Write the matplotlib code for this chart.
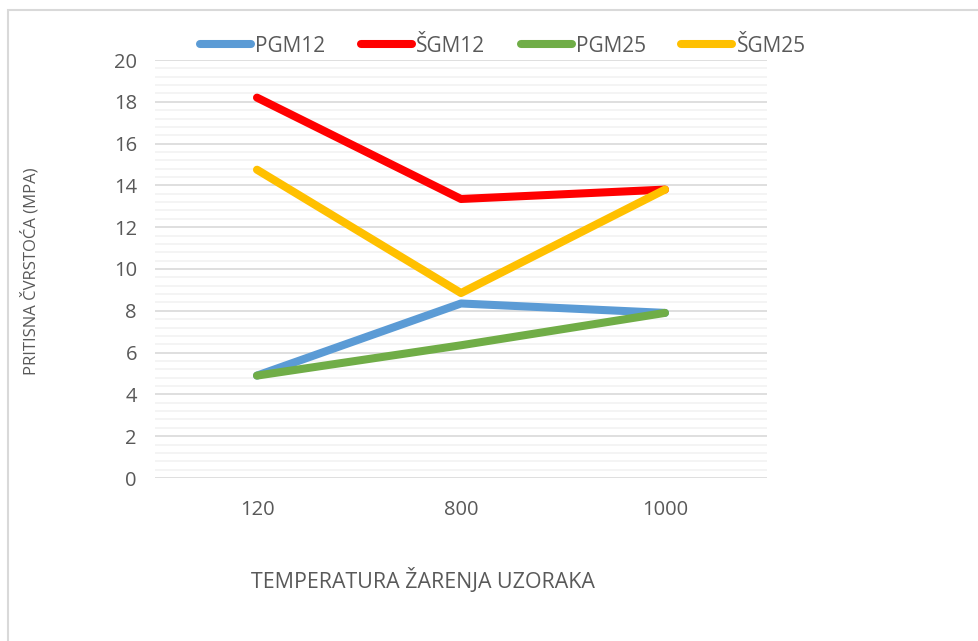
import matplotlib
matplotlib.use("Agg")
import matplotlib.pyplot as plt
from matplotlib.patches import Rectangle
from matplotlib.ticker import MultipleLocator

plt.rcParams['font.family'] = ['Open Sans', 'DejaVu Sans']

temperatures = ['120', '800', '1000']
pgm12 = [4.9, 8.35, 7.9]
sgm12 = [18.2, 13.35, 13.8]
pgm25 = [4.9, 6.35, 7.9]
sgm25 = [14.75, 8.85, 13.8]

series = [
    ('PGM12', pgm12, '#5B9BD5'),
    ('ŠGM12', sgm12, '#FF0000'),
    ('PGM25', pgm25, '#70AD47'),
    ('ŠGM25', sgm25, '#FFC000'),
]

text_color = '#595959'

fig = plt.figure(figsize=(9.79, 6.41), dpi=100)
ax = fig.add_axes([155 / 979, 1 - 478 / 641, 612 / 979, 418 / 641])

x = range(len(temperatures))
for name, vals, color in series:
    ax.plot(x, vals, color=color, lw=5.8, label=name,
            solid_capstyle='round', solid_joinstyle='round')

ax.set_xlim(-0.5, len(temperatures) - 0.5)
ax.set_ylim(0, 20)
ax.set_xticks(list(x))
ax.set_xticklabels(temperatures)
ax.yaxis.set_major_locator(MultipleLocator(2))
ax.yaxis.set_minor_locator(MultipleLocator(0.4))
ax.grid(axis='y', which='major', color='#D9D9D9', lw=1.2)
ax.grid(axis='y', which='minor', color='#F2F2F2', lw=1.2)
ax.set_axisbelow(True)
ax.tick_params(axis='both', which='both', length=0, labelsize=14.5,
               labelcolor=text_color)
ax.tick_params(axis='y', pad=13)
ax.tick_params(axis='x', pad=16)
for s in ax.spines.values():
    s.set_visible(False)

fig.text(30 / 979, 1 - 271 / 641, 'PRITISNA ČVRSTOĆA (MPA)', rotation=90,
         ha='center', va='center', fontsize=12, color=text_color)
fig.text(423 / 979, 1 - 580 / 641, 'TEMPERATURA ŽARENJA UZORAKA',
         ha='center', va='center', fontsize=15.4, color=text_color)

leg = ax.legend(loc='center', bbox_to_anchor=(503 / 979, 1 - 46 / 641),
                bbox_transform=fig.transFigure, ncol=4, frameon=False,
                fontsize=15, handlelength=2.45, handletextpad=0.2,
                columnspacing=1.7, borderpad=0)
for t in leg.get_texts():
    t.set_color(text_color)

# outer chart border, clipped at the right and bottom edges
fig.patches.append(Rectangle((8.5 / 979, -0.2), 1.2, 1.2 - 10 / 641,
                             transform=fig.transFigure, fill=False,
                             edgecolor='#D9D9D9', lw=1.5))

fig.savefig('out.png', dpi=100)
